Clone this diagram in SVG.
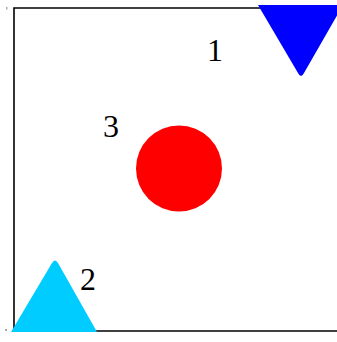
<svg xmlns="http://www.w3.org/2000/svg" width="337" height="342" viewBox="0 0 337 342">
<style>
.lbl{font-family:"Liberation Serif","Times New Roman",serif;font-size:32px;fill:#000}
.frame{stroke:#000;stroke-width:1.6;fill:none}
.tick{fill:#aaa}
</style>
<rect width="337" height="342" fill="#fff"/>
<g id="frame">
<path class="frame" d="M14,331 L14,8 L262,8"/>
<path class="frame" d="M14,331 L337,331"/>
<rect class="tick" x="6" y="7" width="1.5" height="2.5"/>
<rect class="tick" x="5" y="329" width="2" height="2"/>
</g>
<g id="node1">
<path d="M258,5 L343,5 L304,73 Q301,79 298,73 Z" fill="#0000ff"/>
<text class="lbl" x="207" y="61">1</text>
</g>
<g id="node2">
<path d="M11,332 L97,332 L58,263 Q55,258 52,263 Z" fill="#00ccff"/>
<text class="lbl" x="80" y="290">2</text>
</g>
<g id="node3">
<circle cx="179" cy="168.5" r="43" fill="#ff0000"/>
<text class="lbl" x="103" y="137">3</text>
</g>
</svg>
